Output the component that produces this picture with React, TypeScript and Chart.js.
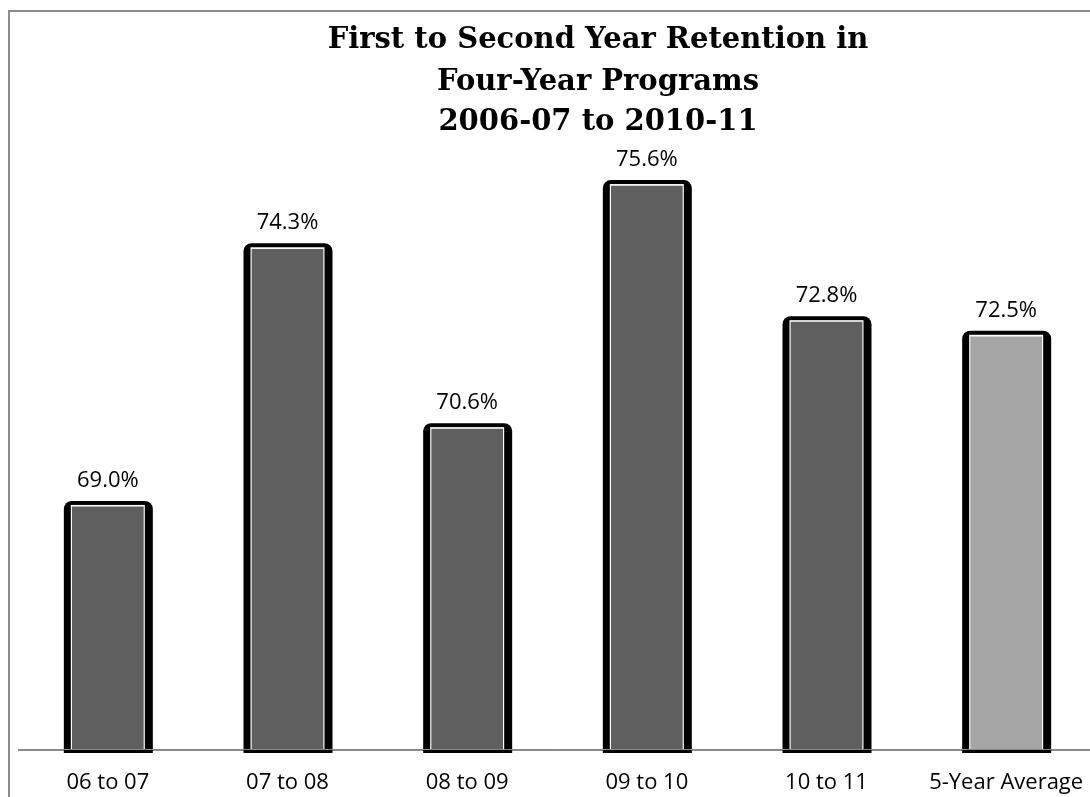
import React, { useEffect, useRef } from "react";
import { Chart, registerables } from "chart.js";

Chart.register(...registerables);

const categories = ["06 to 07", "07 to 08", "08 to 09", "09 to 10", "10 to 11", "5-Year Average"];
const retention = [69.0, 74.3, 70.6, 75.6, 72.8, 72.5];
const barColors = ["#5f5f5f", "#5f5f5f", "#5f5f5f", "#5f5f5f", "#5f5f5f", "#a5a5a5"];
const titleLines = ["First to Second Year Retention in", "Four-Year Programs", "2006-07 to 2010-11"];
const yMin = 64;
const yMax = 77;

const CANVAS_W = 1180;
const CANVAS_H = 789;

function topRoundedRect(ctx: CanvasRenderingContext2D, x: number, y: number, w: number, h: number, r: number) {
  ctx.beginPath();
  ctx.moveTo(x, y + h);
  ctx.lineTo(x, y + r);
  ctx.arcTo(x, y, x + r, y, r);
  ctx.lineTo(x + w - r, y);
  ctx.arcTo(x + w, y, x + w, y + r, r);
  ctx.lineTo(x + w, y + h);
  ctx.closePath();
}

const framePlugin = {
  id: "framePlugin",
  beforeDraw(chart: any) {
    const ctx = chart.ctx as CanvasRenderingContext2D;
    ctx.save();
    ctx.fillStyle = "#ffffff";
    ctx.fillRect(0, 0, chart.width, chart.height);
    ctx.fillStyle = "#8c8c8c";
    ctx.fillRect(0, 2, 2, chart.height);
    ctx.fillRect(0, 2, chart.width, 2);
    ctx.restore();
  },
};

const barFramePlugin = {
  id: "barFramePlugin",
  beforeDatasetsDraw(chart: any) {
    const ctx = chart.ctx as CanvasRenderingContext2D;
    const meta = chart.getDatasetMeta(0);
    const bottom = chart.chartArea.bottom;
    ctx.save();
    meta.data.forEach((el: any) => {
      const cx = el.x;
      const top = el.y;
      const base = Math.min(el.base, bottom);
      // black outer shape with rounded top
      ctx.fillStyle = "#000000";
      topRoundedRect(ctx, cx - 44, top - 6, 89, base + 3 - (top - 6), 8);
      ctx.fill();
      // white inner frame
      ctx.fillStyle = "#ffffff";
      ctx.fillRect(cx - 37, top - 2, 74, base - top + 2);
    });
    ctx.restore();
  },
};

const labelPlugin = {
  id: "labelPlugin",
  afterDatasetsDraw(chart: any) {
    const ctx = chart.ctx as CanvasRenderingContext2D;
    const meta = chart.getDatasetMeta(0);
    const area = chart.chartArea;
    ctx.save();
    // axis line over bar fills
    ctx.fillStyle = "#8a8a8a";
    ctx.fillRect(area.left, area.bottom - 1, area.right - area.left, 1);
    ctx.fillStyle = "#000000";
    ctx.font = '22px "Open Sans"';
    ctx.textAlign = "center";
    ctx.textBaseline = "alphabetic";
    meta.data.forEach((el: any, i: number) => {
      ctx.fillText(`${retention[i].toFixed(1)}%`, el.x, el.y - 20);
    });
    // title
    ctx.font = 'bold 29px "DejaVu Serif"';
    const titleX = 590;
    const baselines = [40, 82, 122];
    titleLines.forEach((line, i) => {
      ctx.fillText(line, titleX, baselines[i]);
    });
    ctx.restore();
  },
};

export default function App() {
  const canvasRef = useRef<HTMLCanvasElement | null>(null);

  useEffect(() => {
    if (!canvasRef.current) return;
    const chart = new Chart(canvasRef.current, {
      type: "bar",
      data: {
        labels: categories,
        datasets: [
          {
            data: retention,
            backgroundColor: barColors,
            borderWidth: 0,
            barThickness: 71,
            base: yMin,
          },
        ],
      },
      options: {
        responsive: false,
        animation: false,
        layout: { padding: { left: 10, right: 92, top: 110, bottom: 0 } },
        plugins: {
          legend: { display: false },
          tooltip: { enabled: false },
          title: { display: false },
        },
        scales: {
          x: {
            grid: { display: false, drawTicks: false },
            border: { display: true, color: "#878787", width: 1 },
            ticks: {
              color: "#000000",
              font: { family: '"Open Sans"', size: 22 },
              padding: 20,
              maxRotation: 0,
              autoSkip: false,
            },
            afterFit: (scale: any) => {
              scale.height = 47;
            },
          },
          y: {
            display: false,
            min: yMin,
            max: yMax,
          },
        },
      },
      plugins: [framePlugin, barFramePlugin, labelPlugin],
    });
    return () => chart.destroy();
  }, []);

  return (
    <div
      style={{
        position: "fixed",
        left: 8,
        top: 8,
        width: 1082,
        height: 789,
        overflow: "hidden",
      }}
    >
      <canvas ref={canvasRef} width={CANVAS_W} height={CANVAS_H} style={{ display: "block" }} />
    </div>
  );
}
